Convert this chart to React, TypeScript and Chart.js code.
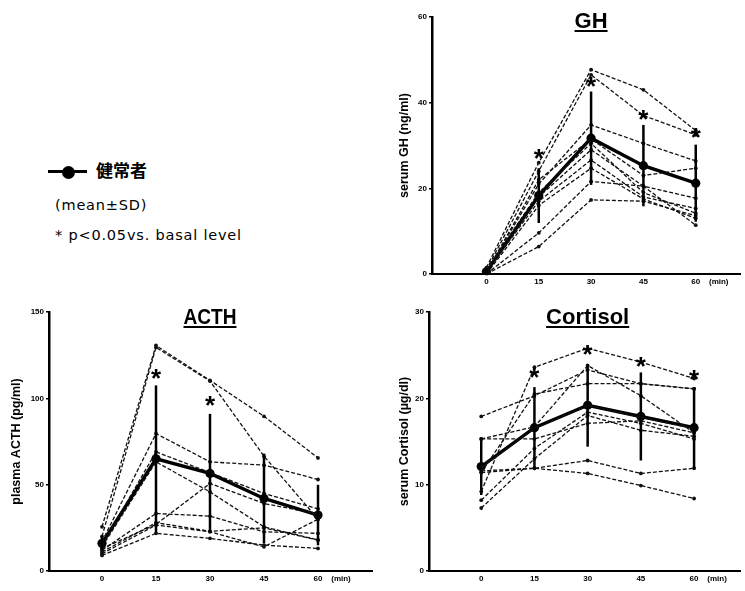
import React, { useEffect, useRef } from "react";
import { Chart, registerables } from "chart.js";

Chart.register(...registerables);

// ---------- shared ----------
const times = [0, 15, 30, 45, 60];
const xTickValues = [0, 15, 30, 45, 60];

// ---------- GH (ng/ml) ----------
const ghSubject1 = [1.5, 26, 47.7, 43, 33.5];
const ghSubject2 = [1, 24, 46.5, 37, 32.5];
const ghSubject3 = [0.5, 21, 34.8, 30.5, 26.4];
const ghSubject4 = [0.5, 22, 31.5, 23, 24.7];
const ghSubject5 = [1, 19, 30.5, 19, 14.2];
const ghSubject6 = [0.5, 18, 29, 20.5, 17.7];
const ghSubject7 = [0.5, 17, 26.6, 18, 15.3];
const ghSubject8 = [0, 16, 24.7, 17.5, 13];
const ghSubject9 = [0, 9.6, 21.6, 20.5, 11.4];
const ghSubject10 = [0, 6.4, 17.3, 17, 13.6];
const ghMean = [0.5, 18.3, 31.7, 25.3, 21.2];
const ghSD = [0.8, 6.4, 10.9, 9.5, 9];
const ghStarTimes = [15, 30, 45, 60];
const ghStarValues = [28, 44.8, 37, 32.8];
const ghYTicks = [0, 20, 40, 60];

// ---------- ACTH (pg/ml) ----------
const acthSubject1 = [25.6, 130.6, 110.4, 89.6, 65.5];
const acthSubject2 = [20, 129.5, 110, 66.5, 30];
const acthSubject3 = [17, 79.6, 63.2, 61.3, 53];
const acthSubject4 = [15, 69, 57, 44.9, 36];
const acthSubject5 = [14, 63.2, 45.8, 25.6, 18];
const acthSubject6 = [13, 27, 50.7, 39.1, 33];
const acthSubject7 = [12, 33.3, 31.8, 22.7, 21.8];
const acthSubject8 = [10, 26.6, 22.7, 14, 30];
const acthSubject9 = [9, 21.8, 18.9, 15, 13.1];
const acthSubject10 = [11, 28, 23, 25, 17.9];
const acthMean = [16, 65, 56.5, 42, 32.4];
const acthSD = [4, 42.5, 34.5, 26, 17.5];
const acthStarTimes = [15, 30];
const acthStarValues = [114, 97.9];
const acthYTicks = [0, 50, 100, 150];

// ---------- Cortisol (µg/dl) ----------
const cortSubject1 = [17.9, 20.3, 23.3, 21.7, 21.1];
const cortSubject2 = [9.2, 23.6, 25.8, 24.2, 22.3];
const cortSubject3 = [15.3, 16.7, 23.8, 20.3, 16];
const cortSubject4 = [11.4, 20.5, 21.7, 21.7, 21.1];
const cortSubject5 = [8.2, 14.2, 18.4, 17.1, 15.3];
const cortSubject6 = [7.3, 13, 18, 16.3, 15.6];
const cortSubject7 = [12, 16.5, 19.2, 17.8, 16.5];
const cortSubject8 = [11.4, 11.9, 12.8, 11.3, 11.9];
const cortSubject9 = [11.6, 11.9, 11.3, 9.9, 8.4];
const cortSubject10 = [15.3, 15.3, 17.1, 17.4, 16];
const cortMean = [12.1, 16.6, 19.2, 17.9, 16.6];
const cortSD = [3.3, 4.7, 4.8, 5.1, 4.7];
const cortStarTimes = [15, 30, 45, 60];
const cortStarValues = [22.9, 25.5, 24.1, 22.7];
const cortYTicks = [0, 10, 20, 30];

type PanelCfg = {
  title: string;
  titleMaxWidth: number;
  titleBaseline: number;
  yTitle: string;
  yTitlePad: number;
  subjects: number[][];
  mean: number[];
  sd: number[];
  starTimes: number[];
  starValues: number[];
  yTicks: number[];
  box: { left: number; top: number; w: number; h: number };
  area: { left: number; right: number; top: number; bottom: number };
  xMin: number;
  xMax: number;
};

const FONT = '"Liberation Sans", Arial, sans-serif';

function Panel({ cfg }: { cfg: PanelCfg }) {
  const ref = useRef<HTMLCanvasElement>(null);
  useEffect(() => {
    const canvas = ref.current!;
    const { box, area } = cfg;
    const toPts = (arr: number[]) => arr.map((v, i) => ({ x: times[i], y: v }));
    const datasets: any[] = [
      ...cfg.subjects.map((s) => ({
        data: toPts(s),
        borderColor: "#111",
        borderWidth: 1.3,
        borderDash: [4, 2],
        pointRadius: 1.9,
        pointBackgroundColor: "#111",
        pointBorderWidth: 0,
        tension: 0,
        fill: false,
      })),
      {
        data: toPts(cfg.mean),
        borderColor: "#000",
        borderWidth: 3.4,
        pointRadius: 4.6,
        pointBackgroundColor: "#000",
        pointBorderWidth: 0,
        tension: 0,
        fill: false,
      },
    ];
    const extras = {
      id: "extras",
      afterDatasetsDraw(chart: any) {
        const ctx = chart.ctx as CanvasRenderingContext2D;
        const xs = chart.scales.x;
        const ys = chart.scales.y;
        ctx.save();
        ctx.strokeStyle = "#000";
        ctx.fillStyle = "#000";
        ctx.setLineDash([]);
        // error bars (mean ± SD)
        ctx.lineWidth = 2.5;
        cfg.mean.forEach((m, i) => {
          const px = xs.getPixelForValue(times[i]);
          ctx.beginPath();
          ctx.moveTo(px, ys.getPixelForValue(m + cfg.sd[i]));
          ctx.lineTo(px, ys.getPixelForValue(m - cfg.sd[i]));
          ctx.stroke();
        });
        // significance stars
        ctx.font = `bold 26px ${FONT}`;
        ctx.textAlign = "center";
        ctx.textBaseline = "alphabetic";
        cfg.starTimes.forEach((t, i) => {
          ctx.fillText("*", xs.getPixelForValue(t), ys.getPixelForValue(cfg.starValues[i]) + 12.5);
        });
        // panel title, underlined
        ctx.font = `bold 22px ${FONT}`;
        const tx = xs.getPixelForValue(30);
        const ty = cfg.titleBaseline;
        ctx.fillText(cfg.title, tx, ty, cfg.titleMaxWidth);
        const w = Math.min(ctx.measureText(cfg.title).width, cfg.titleMaxWidth);
        ctx.lineWidth = 2;
        ctx.beginPath();
        ctx.moveTo(tx - w / 2, ty + 3);
        ctx.lineTo(tx + w / 2, ty + 3);
        ctx.stroke();
        // (min) unit label
        ctx.font = `bold 8px ${FONT}`;
        ctx.textBaseline = "middle";
        ctx.fillText("(min)", xs.getPixelForValue(60) + 23, xs.top + 7.8);
        ctx.restore();
      },
    };
    const chart = new Chart(canvas, {
      type: "line",
      data: { datasets },
      options: {
        animation: false,
        responsive: false,
        devicePixelRatio: 1,
        layout: { padding: { left: 0, top: area.top, right: box.w - area.right, bottom: 0 } },
        plugins: { legend: { display: false }, tooltip: { enabled: false }, title: { display: false } },
        scales: {
          x: {
            type: "linear",
            min: cfg.xMin,
            max: cfg.xMax,
            afterBuildTicks: (s: any) => {
              s.ticks = xTickValues.map((v) => ({ value: v }));
            },
            afterFit: (s: any) => {
              s.height = box.h - area.bottom;
            },
            grid: { display: false, drawTicks: false },
            border: { display: true, color: "#000", width: 2 },
            ticks: {
              color: "#000",
              font: { family: FONT, size: 8, weight: "bold" },
              padding: 3,
              maxRotation: 0,
              autoSkip: false,
              callback: (v: any) => String(v),
            },
          },
          y: {
            type: "linear",
            min: cfg.yTicks[0],
            max: cfg.yTicks[cfg.yTicks.length - 1],
            afterBuildTicks: (s: any) => {
              s.ticks = cfg.yTicks.map((v) => ({ value: v }));
            },
            afterFit: (s: any) => {
              s.width = area.left;
            },
            grid: { display: true, drawOnChartArea: false, drawTicks: true, tickLength: 3, color: "#000", lineWidth: 1.5 },
            border: { display: true, color: "#000", width: 2.5 },
            ticks: {
              color: "#000",
              font: { family: FONT, size: 8, weight: "bold" },
              padding: 2,
              autoSkip: false,
              callback: (v: any) => String(v),
            },
            title: {
              display: true,
              text: cfg.yTitle,
              color: "#000",
              font: { family: FONT, size: 12.5, weight: "bold" },
              padding: { top: cfg.yTitlePad, bottom: 0 },
            },
          },
        },
      } as any,
      plugins: [extras],
    });
    return () => chart.destroy();
  }, [cfg]);
  const { box } = cfg;
  return (
    <canvas
      ref={ref}
      width={box.w}
      height={box.h}
      style={{ position: "absolute", left: box.left, top: box.top, width: box.w, height: box.h }}
    />
  );
}

const ghCfg: PanelCfg = {
  title: "GH",
  titleMaxWidth: 40,
  titleBaseline: 28,
  yTitle: "serum GH (ng/ml)",
  yTitlePad: 7,
  subjects: [ghSubject1, ghSubject2, ghSubject3, ghSubject4, ghSubject5, ghSubject6, ghSubject7, ghSubject8, ghSubject9, ghSubject10],
  mean: ghMean,
  sd: ghSD,
  starTimes: ghStarTimes,
  starValues: ghStarValues,
  yTicks: ghYTicks,
  box: { left: 390, top: 0, w: 355, h: 295 },
  area: { left: 42, right: 353, top: 17, bottom: 274 },
  xMin: -15.6,
  xMax: 72.8,
};

const acthCfg: PanelCfg = {
  title: "ACTH",
  titleMaxWidth: 53,
  titleBaseline: 29,
  yTitle: "plasma ACTH (pg/ml)",
  yTitlePad: 9,
  subjects: [acthSubject1, acthSubject2, acthSubject3, acthSubject4, acthSubject5, acthSubject6, acthSubject7, acthSubject8, acthSubject9, acthSubject10],
  mean: acthMean,
  sd: acthSD,
  starTimes: acthStarTimes,
  starValues: acthStarValues,
  yTicks: acthYTicks,
  box: { left: 0, top: 295, w: 385, h: 296 },
  area: { left: 49, right: 372, top: 17, bottom: 276 },
  xMin: -14.72,
  xMax: 75,
};

const cortCfg: PanelCfg = {
  title: "Cortisol",
  titleMaxWidth: 84,
  titleBaseline: 29,
  yTitle: "serum Cortisol (µg/dl)",
  yTitlePad: 7,
  subjects: [cortSubject1, cortSubject2, cortSubject3, cortSubject4, cortSubject5, cortSubject6, cortSubject7, cortSubject8, cortSubject9, cortSubject10],
  mean: cortMean,
  sd: cortSD,
  starTimes: cortStarTimes,
  starValues: cortStarValues,
  yTicks: cortYTicks,
  box: { left: 390, top: 295, w: 355, h: 296 },
  area: { left: 39, right: 355, top: 17, bottom: 276 },
  xMin: -14.72,
  xMax: 73.06,
};

export default function App() {
  return (
    <div style={{ position: "absolute", left: 0, top: 0, width: 745, height: 591, background: "#fff", overflow: "hidden" }}>
      {/* legend */}
      <div style={{ position: "absolute", left: 48, top: 170, width: 39, height: 3, background: "#000" }} />
      <div style={{ position: "absolute", left: 62, top: 166, width: 13, height: 13, borderRadius: "50%", background: "#000" }} />
      <div style={{ position: "absolute", left: 96, top: 160, font: 'bold 17px "Noto Sans CJK JP", sans-serif', lineHeight: "20px", color: "#000" }}>
        健常者
      </div>
      <div style={{ position: "absolute", left: 55, top: 196, font: '14.5px "DejaVu Sans", sans-serif', letterSpacing: "0.8px", lineHeight: "18px", color: "#000", whiteSpace: "nowrap" }}>
        (mean±SD)
      </div>
      <div style={{ position: "absolute", left: 55, top: 226, font: '14.5px "DejaVu Sans", sans-serif', letterSpacing: "0.8px", lineHeight: "18px", color: "#000", whiteSpace: "nowrap" }}>
        * p&lt;0.05vs. basal level
      </div>
      <Panel cfg={ghCfg} />
      <Panel cfg={acthCfg} />
      <Panel cfg={cortCfg} />
    </div>
  );
}
